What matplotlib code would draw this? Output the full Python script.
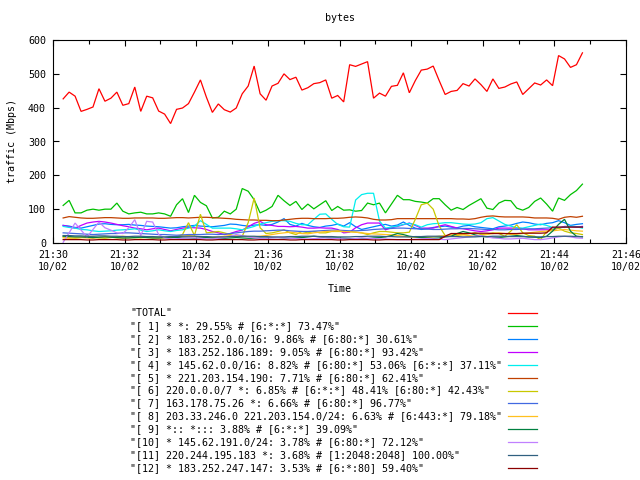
import matplotlib
matplotlib.use("Agg")
import matplotlib.pyplot as plt
import matplotlib.dates as mdates
from matplotlib.lines import Line2D
import pandas as pd

plt.rcParams['font.family'] = ['DejaVu Sans Mono']

title = "bytes"
ylabel = "traffic (Mbps)"
xlabel = "Time"

series_labels = [
    '"TOTAL"',
    '"[ 1] * *: 29.55% # [6:*:*] 73.47%"',
    '"[ 2] * 183.252.0.0/16: 9.86% # [6:80:*] 30.61%"',
    '"[ 3] * 183.252.186.189: 9.05% # [6:80:*] 93.42%"',
    '"[ 4] * 145.62.0.0/16: 8.82% # [6:80:*] 53.06% [6:*:*] 37.11%"',
    '"[ 5] * 221.203.154.190: 7.71% # [6:80:*] 62.41%"',
    '"[ 6] 220.0.0.0/7 *: 6.85% # [6:*:*] 48.41% [6:80:*] 42.43%"',
    '"[ 7] 163.178.75.26 *: 6.66% # [6:80:*] 96.77%"',
    '"[ 8] 203.33.246.0 221.203.154.0/24: 6.63% # [6:443:*] 79.18%"',
    '"[ 9] *:: *::: 3.88% # [6:*:*] 39.09%"',
    '"[10] * 145.62.191.0/24: 3.78% # [6:80:*] 72.12%"',
    '"[11] 220.244.195.183 *: 3.68% # [1:2048:2048] 100.00%"',
    '"[12] * 183.252.247.147: 3.53% # [6:*:80] 59.40%"',
]

series_colors = ["#ff0000", "#00c000", "#0080ff", "#c000ff", "#00eeee", "#c04000",
                 "#c8c800", "#4169e1", "#ffc020", "#008040", "#c080ff", "#306080", "#8b0000"]

total = [426,446,434,389,395,402,456,419,428,446,407,412,461,389,434,429,390,381,353,395,399,412,446,482,431,386,411,394,387,
         399,441,464,523,441,422,464,472,500,483,490,452,459,471,474,482,428,436,417,527,522,529,536,428,443,434,463,466,503,444,
         480,511,514,523,480,439,448,451,471,464,485,468,448,485,457,461,470,476,439,456,473,467,482,465,554,544,519,527,562]

s1 = [111,126,89,89,97,100,97,100,100,118,94,86,89,91,86,86,89,86,79,113,131,90,
      141,120,110,74,76,94,86,100,161,153,128,89,97,108,141,125,111,123,99,115,101,113,
      125,96,108,97,98,94,96,118,113,118,89,115,141,128,128,123,121,118,131,131,113,97,
      105,99,111,121,131,103,99,118,126,125,103,97,105,123,133,115,94,133,126,143,155,174]

s2 = [52,50,46,44,48,52,56,57,55,54,54,
      55,53,52,50,49,48,46,44,45,48,50,
      52,50,49,48,50,52,56,55,52,50,53,54,
      52,55,62,72,55,50,58,52,48,46,50,52,
      56,50,60,48,40,44,48,52,55,50,53,62,
      52,44,40,42,46,48,50,47,45,50,52,48,
      46,44,42,48,50,53,58,62,60,56,54,58,
      60,66,60,52,55,57]

s3 = [52,48,44,52,59,62,64,62,59,55,51,
      48,44,42,39,42,44,40,36,40,44,46,
      45,44,40,34,30,25,28,34,38,48,58,64,
      54,52,49,49,48,49,47,44,44,45,44,44,
      40,30,32,45,54,59,59,59,39,45,49,54,
      59,52,44,44,44,50,54,49,44,42,39,36,
      34,36,39,44,44,44,44,42,39,39,39,39,
      39,44,49,49,47,49]

s4 = [49,46,44,40,39,36,34,35,36,38,39,
      40,42,38,34,36,39,36,34,37,39,44,
      50,66,55,44,44,44,44,42,39,44,49,56,
      60,64,66,66,64,58,54,54,70,85,86,70,
      55,48,47,127,143,147,147,65,44,47,50,55,
      58,54,47,54,57,58,60,60,58,56,55,56,
      60,72,75,65,55,50,45,44,48,52,56,52,
      46,44,47,50,48,44]

s5 = [74,78,76,74,73,73,74,75,75,74,73,
      73,74,74,74,74,73,73,74,75,75,74,
      75,76,76,75,74,73,72,70,69,68,68,67,
      67,66,66,68,70,72,73,73,72,72,72,73,
      73,74,76,77,76,74,70,68,68,69,72,72,
      72,72,72,72,72,72,72,72,71,71,70,72,
      76,79,80,78,77,77,77,77,76,74,74,74,
      73,70,76,78,76,79]

s6 = [18,15,14,16,20,18,15,14,16,18,20,
      18,16,15,17,16,18,17,15,18,25,60,
      22,85,30,32,34,30,25,20,20,60,133,45,
      28,30,34,39,30,25,34,30,34,30,30,34,
      34,34,34,32,30,25,30,34,34,32,30,30,
      32,70,113,118,100,50,22,20,22,25,28,30,
      25,26,30,28,20,35,54,30,22,20,10,34,
      40,44,35,30,28,25]

s7 = [30,29,28,27,26,25,26,27,28,28,30,
      30,29,28,27,26,25,25,24,23,24,25,
      25,25,26,26,25,26,28,30,32,34,35,35,
      36,37,38,38,36,35,34,34,35,36,37,38,
      38,37,36,36,37,38,40,41,42,43,44,44,
      43,42,42,41,40,40,41,42,42,43,43,42,
      41,40,40,39,39,40,40,41,42,42,43,44,
      45,46,47,48,48,47]

s8 = [15,14,15,16,15,14,16,18,17,15,14,
      15,16,17,16,15,14,15,16,18,20,22,
      20,18,17,16,18,20,22,21,20,19,18,20,
      22,25,28,30,32,30,28,27,30,32,34,35,
      36,34,33,32,30,28,27,26,25,24,22,20,
      18,17,16,17,18,20,22,24,25,24,22,20,
      22,25,28,30,28,25,26,28,30,32,34,35,
      36,38,40,38,36,35]

s9 = [20,19,18,18,17,16,17,18,17,16,15,
      15,16,17,16,15,15,16,17,16,15,15,
      14,15,16,15,14,14,15,16,15,14,14,15,
      15,16,16,15,14,15,16,18,20,18,16,15,
      15,14,13,12,12,13,15,16,18,22,28,25,
      20,18,16,15,14,15,18,20,28,34,30,24,
      20,18,17,16,18,20,22,20,18,17,16,20,
      35,55,70,35,20,18]

s10 = [2,30,59,38,18,40,62,45,38,30,28,
       45,69,22,64,62,25,15,12,12,14,15,
       15,14,12,12,14,16,20,25,22,18,15,14,
       14,15,16,15,14,13,12,12,13,14,15,14,
       13,12,12,13,15,14,13,12,12,11,10,10,
       10,11,12,13,12,11,10,12,14,16,18,20,
       22,18,15,14,12,12,13,14,12,10,10,12,
       15,18,20,18,15,14]

s11 = [22,22,21,21,20,20,21,21,20,20,19,
       19,20,20,19,19,18,18,19,19,20,20,
       20,19,19,18,18,18,19,19,20,20,20,19,
       19,18,18,18,19,19,20,20,20,19,19,19,
       18,18,18,19,19,20,20,20,19,19,18,18,
       18,19,19,20,20,20,19,19,19,18,18,18,
       19,19,20,20,20,19,19,19,18,18,18,19,
       19,20,20,20,19,19]

s12 = [10,10,10,10,9,9,10,10,10,10,9,
       9,10,10,10,10,9,9,10,10,10,10,
       10,10,9,9,10,10,10,10,10,9,9,10,
       10,10,10,10,9,9,10,10,10,10,10,10,
       9,9,10,10,10,10,9,9,10,10,10,10,
       10,10,10,10,10,10,20,28,28,28,28,29,
       29,29,28,28,28,28,28,29,29,29,29,30,
       47,47,47,47,47,47]

all_series = [total, s1, s2, s3, s4, s5, s6, s7, s8, s9, s10, s11, s12]

times = pd.date_range("2008-10-02 21:30:17", periods=len(total), freq="10s")
x_start = pd.Timestamp("2008-10-02 21:30:00")
x_end = pd.Timestamp("2008-10-02 21:46:00")
y_ticks = [0, 100, 200, 300, 400, 500, 600]

W, H = 640, 480
fig = plt.figure(figsize=(6.4, 4.8), dpi=100)
ax = fig.add_axes([53 / W, 1 - 243 / H, (626 - 53) / W, (243 - 40) / H])

for vals, col in zip(all_series, series_colors):
    ax.plot(times, vals, color=col, lw=0.9, solid_joinstyle='miter')

fs = 7.2
ax.set_xlim(x_start, x_end)
ax.set_ylim(0, 600)
ax.set_yticks(y_ticks)
ax.xaxis.set_major_locator(mdates.MinuteLocator(byminute=range(0, 60, 2)))
ax.xaxis.set_minor_locator(mdates.MinuteLocator())
ax.xaxis.set_major_formatter(mdates.DateFormatter("%H:%M\n%m/%d"))
ax.tick_params(axis='both', which='both', direction='in', top=True, right=True,
               labelsize=fs, colors='black')
ax.tick_params(axis='both', which='major', length=4.5, width=0.8)
ax.tick_params(axis='both', which='minor', length=3, width=0.8)
ax.tick_params(axis='y', pad=5)
ax.tick_params(axis='x', pad=5)
for lab in ax.get_xticklabels():
    lab.set_linespacing(1.25)
for sp in ax.spines.values():
    sp.set_linewidth(0.8)

fig.text(339.5 / W, 1 - 18 / H, title, ha='center', va='center', fontsize=fs)
fig.text(12 / W, 1 - 141 / H, ylabel, ha='center', va='center', rotation=90, fontsize=fs)
fig.text(339.5 / W, 1 - 289 / H, xlabel, ha='center', va='center', fontsize=fs)

for k, (lab, col) in enumerate(zip(series_labels, series_colors)):
    yy = 1 - (313 + 12.92 * k) / H
    fig.text(130 / W, yy, lab, ha='left', va='center', fontsize=fs)
    fig.add_artist(Line2D([508 / W, 537 / W], [yy, yy], color=col, lw=0.9,
                          transform=fig.transFigure))

fig.savefig("out.png", dpi=100)
